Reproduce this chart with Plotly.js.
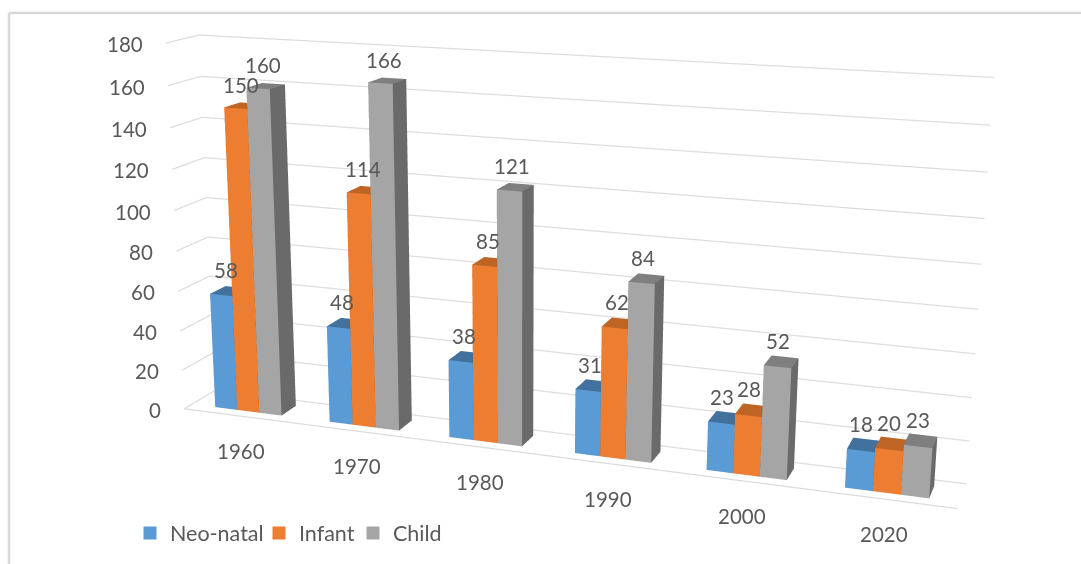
<!DOCTYPE html>
<html>
<head>
<meta charset="utf-8">
<script src="https://cdn.plot.ly/plotly-3.0.1.min.js"></script>
<style>
html,body{margin:0;padding:0;background:#fff;width:1081px;height:564px;overflow:hidden}
#chart{position:absolute;left:0;top:-474px;width:1081px;height:1510px}
</style>
</head>
<body>
<div id="chart"></div>
<script>
const years = ['1960','1970','1980','1990','2000','2020'];
const neoNatal = [58,48,38,31,23,18];
const infant = [150,114,85,62,28,20];
const child = [160,166,121,84,52,23];
const zTicks = [0,20,40,60,80,100,120,140,160,180];

const seriesNames = ['Neo-natal','Infant','Child'];
const seriesValues = [neoNatal,infant,child];
const frontColors = ['#5B9BD5','#ED7D31','#A5A5A5'];
const topColors = ['#41719C','#BE6424','#7F7F7F'];
const sideColors = ['#3E6E99','#B25D20','#6A6A6A'];

const OFFSET = 474, W = 1081, H = 1510;
const BAR_W = 0.195, Y0 = 0.25, Y1 = 0.75;
const FONT = 'Lato, "Open Sans", sans-serif', TXT = '#595959', GRID = '#d9d9d9';
const py = p => 1 - (p + OFFSET) / H;

function barMesh(s) {
  const x=[],y=[],z=[],i=[],j=[],k=[],fc=[];
  seriesValues[s].forEach((v,c)=>{
    const l = c + 0.5 + (s-1.5)*BAR_W, r = l + BAR_W, n = x.length;
    [[l,Y0,0],[r,Y0,0],[r,Y1,0],[l,Y1,0],[l,Y0,v],[r,Y0,v],[r,Y1,v],[l,Y1,v]].forEach(p=>{x.push(p[0]);y.push(p[1]);z.push(p[2]);});
    const quad=(a,b,cc,d,col)=>{i.push(n+a,n+a);j.push(n+b,n+cc);k.push(n+cc,n+d);fc.push(col,col);};
    quad(0,1,5,4,frontColors[s]);
    quad(4,5,6,7,topColors[s]);
    quad(1,2,6,5,sideColors[s]);
    quad(3,0,4,7,sideColors[s]);
    quad(2,3,7,6,sideColors[s]);
    quad(0,1,2,3,sideColors[s]);
  });
  return {type:'mesh3d',name:seriesNames[s],x,y,z,i,j,k,facecolor:fc,flatshading:true,showlegend:false,hoverinfo:'skip',
    lighting:{ambient:1,diffuse:0,specular:0,roughness:1,fresnel:0},lightposition:{x:0,y:0,z:1e5}};
}
const gridX=[],gridY=[],gridZ=[];
zTicks.forEach(v=>{[[0,0],[0,1],[years.length,1]].forEach(p=>{gridX.push(p[0]);gridY.push(p[1]);gridZ.push(v);});gridX.push(null);gridY.push(null);gridZ.push(null);});
[[0,0],[years.length,0]].forEach(p=>{gridX.push(p[0]);gridY.push(p[1]);gridZ.push(0);});
const gridTrace = {type:'scatter3d',mode:'lines',x:gridX,y:gridY,z:gridZ,line:{color:'#dedede',width:2.5},showlegend:false,hoverinfo:'skip'};

const legendIds = ['legend','legend2','legend3'];
const legendTraces = seriesNames.map((n,s)=>({type:'scatter3d',mode:'markers',name:n,x:[null],y:[null],z:[null],legend:legendIds[s],
  marker:{symbol:'square',size:13,color:frontColors[s]},showlegend:true,hoverinfo:'skip'}));
const legendX = [130,259,353];
const legendOpt = s => ({orientation:'h',x:legendX[s]/W,y:py(533),xanchor:'left',yanchor:'middle',font:{family:FONT,size:21.5,color:TXT},bgcolor:'rgba(0,0,0,0)',itemclick:false,itemdoubleclick:false});

const annotations = [];
zTicks.forEach(v=>annotations.push({x:0,y:0,z:v,text:String(v),showarrow:false,xanchor:'right',xshift:-21,yshift:-1,font:{family:FONT,size:20.5,color:TXT}}));
years.forEach((t,c)=>annotations.push({x:c+0.5,y:0,z:0,text:t,showarrow:false,xshift:0,yshift:-35,font:{family:FONT,size:20.5,color:TXT}}));
seriesValues.forEach((vals,s)=>vals.forEach((v,c)=>annotations.push({x:c+0.5+(s-1)*BAR_W,y:0.5,z:v,text:String(v),showarrow:false,xshift:-3,yshift:21,font:{family:FONT,size:20.5,color:TXT}})));

const blankAxis = {showgrid:false,zeroline:false,showticklabels:false,ticks:'',showbackground:false,showspikes:false,title:{text:''}};
const layout = {
  width:W,height:H,margin:{l:0,r:0,t:0,b:0},paper_bgcolor:'#fff',hovermode:false,
  showlegend:true,
  legend:legendOpt(0),legend2:legendOpt(1),legend3:legendOpt(2),
  shapes:[
    {type:'line',xref:'paper',yref:'paper',x0:9/W,x1:1,y0:py(13),y1:py(13),line:{color:GRID,width:2.5}},
    {type:'line',xref:'paper',yref:'paper',x0:9/W,x1:9/W,y0:py(13),y1:py(564),line:{color:GRID,width:2.5}}
  ],
  scene:{
    domain:{x:[0,1],y:[0,1]},bgcolor:'rgba(0,0,0,0)',
    aspectmode:'manual',aspectratio:{x:1,y:0.0811,z:0.481},
    camera:{eye:{x:0.700,y:-2.020,z:0.550},center:{x:-0.014,y:-0.012,z:-0.028},up:{x:-0.078,y:0.210,z:0.965},projection:{type:'perspective'}},
    xaxis:Object.assign({},blankAxis,{range:[0,6],showline:true,linecolor:GRID,linewidth:2}),
    yaxis:Object.assign({},blankAxis,{range:[0,1]}),
    zaxis:Object.assign({},blankAxis,{range:[0,180],showgrid:true,gridcolor:GRID,gridwidth:2,tickmode:'array',tickvals:zTicks,showline:false}),
    annotations
  }
};
Plotly.newPlot('chart',[0,1,2].map(barMesh).concat([gridTrace],legendTraces),layout,{displayModeBar:false});
</script>
</body>
</html>
